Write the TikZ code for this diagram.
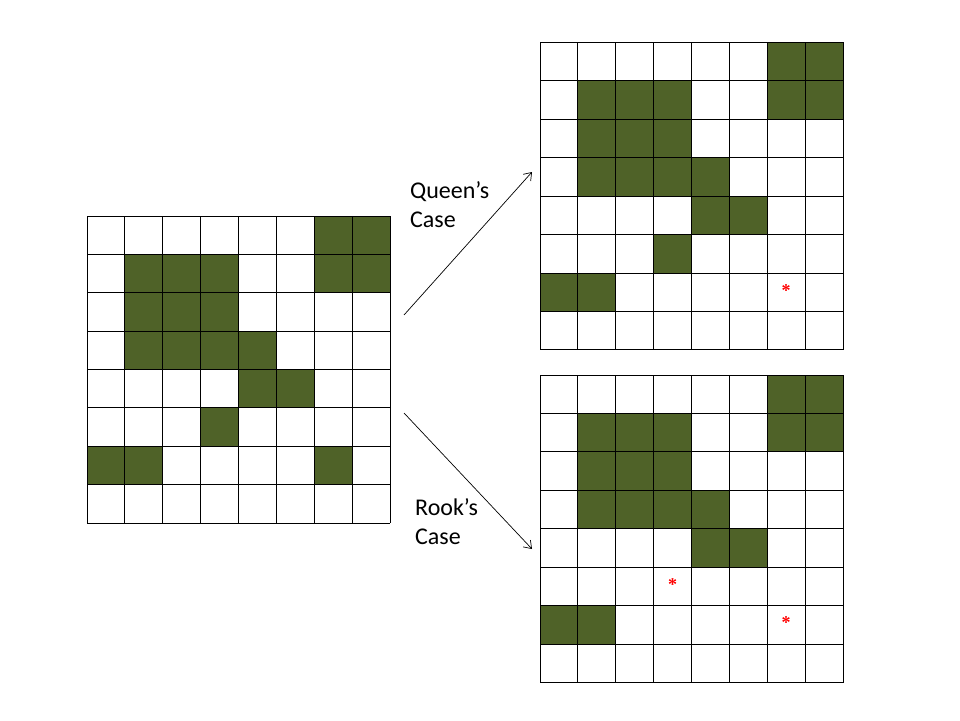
\documentclass[tikz,border=0pt]{standalone}
\usepackage{fontspec}
\setmainfont{Carlito}
\newfontfamily\starfont{Liberation Serif}
\usetikzlibrary{arrows.meta}
\definecolor{olivecell}{HTML}{4F6228}

\tikzset{
  cellfill/.style={fill=olivecell, draw=none},
  gridline/.style={draw=black, line width=0.9pt},
  casearrow/.style={draw=black, line width=0.7pt, -{Straight Barb[length=7pt,width=10pt]}},
  caselabel/.style={font=\fontsize{24}{29}\selectfont, align=left, anchor=north west, inner sep=0pt},
  starmark/.style={text=red, font=\starfont\bfseries\fontsize{18}{18}\selectfont, inner sep=0pt}
}

\begin{document}
\begin{tikzpicture}[x=1pt, y=-1pt]
        \useasboundingbox (0,0) rectangle (960,720);

        % original grid
        \begin{scope}[shift={(87,216)}, x=37.875pt, y=-38.375pt]
        \foreach \c/\r in {6/0,7/0,1/1,2/1,3/1,6/1,7/1,1/2,2/2,3/2,1/3,2/3,3/3,4/3,4/4,5/4,3/5,0/6,1/6,6/6}
            \fill[cellfill] (\c,\r) rectangle (\c+1,\r+1);
        \foreach \i in {0,...,8} {
            \draw[gridline] (\i,0) -- (\i,8);
            \draw[gridline] (0,\i) -- (8,\i);
        }
        \end{scope}

        % queen's case
        \begin{scope}[shift={(540,42.3)}, x=37.875pt, y=-38.45pt]
        \foreach \c/\r in {6/0,7/0,1/1,2/1,3/1,6/1,7/1,1/2,2/2,3/2,1/3,2/3,3/3,4/3,4/4,5/4,3/5,0/6,1/6}
            \fill[cellfill] (\c,\r) rectangle (\c+1,\r+1);
        \foreach \i in {0,...,8} {
            \draw[gridline] (\i,0) -- (\i,8);
            \draw[gridline] (0,\i) -- (8,\i);
        }
        \node[starmark] (qstar) at (6.5,6.45) {*};
        \end{scope}

        % rook's case
        \begin{scope}[shift={(540,375)}, x=37.875pt, y=-38.45pt]
        \foreach \c/\r in {6/0,7/0,1/1,2/1,3/1,6/1,7/1,1/2,2/2,3/2,1/3,2/3,3/3,4/3,4/4,5/4,0/6,1/6}
            \fill[cellfill] (\c,\r) rectangle (\c+1,\r+1);
        \foreach \i in {0,...,8} {
            \draw[gridline] (\i,0) -- (\i,8);
            \draw[gridline] (0,\i) -- (8,\i);
        }
        \node[starmark] (rstara) at (3.5,5.45) {*};
        \node[starmark] (rstarb) at (6.5,6.45) {*};
        \end{scope}

        \coordinate (qfrom) at (404,315);
        \coordinate (qto) at (532,172);
        \coordinate (rfrom) at (404,413);
        \coordinate (rto) at (532,549);
        \draw[casearrow] (qfrom) -- (qto);
        \draw[casearrow] (rfrom) -- (rto);

        \node[caselabel] (queen) at (410,181) {Queen’s\\Case};
        \node[caselabel] (rook) at (415,498) {Rook’s\\Case};
    \end{tikzpicture}
\end{document}
